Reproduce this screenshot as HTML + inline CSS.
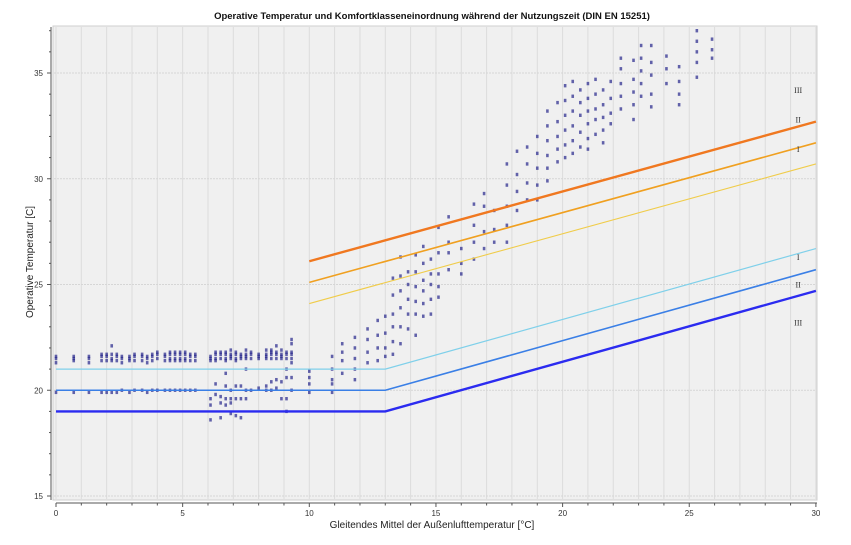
<!DOCTYPE html>
<html><head><meta charset="utf-8">
<style>
html,body{margin:0;padding:0;background:#fff;}
svg{display:block;font-family:"Liberation Sans",sans-serif;}
</style></head>
<body>
<svg id="chart" width="851" height="545" viewBox="0 0 851 545">
  <text x="432" y="19" text-anchor="middle" font-size="9.5" font-weight="bold" fill="#111">Operative Temperatur und Komfortklasseneinordnung während der Nutzungszeit (DIN EN 15251)</text>
  <rect x="53" y="26" width="764" height="474" fill="#f0f0f0" stroke="#cfcfcf"/>
  <g id="grid"></g>
  <g id="axes"></g>
  <g id="points"></g>
  <g id="lines"></g>
  <g id="labels"></g>
  <text x="432" y="528" text-anchor="middle" font-size="10" fill="#222">Gleitendes Mittel der Außenlufttemperatur [°C]</text>
  <text x="0" y="0" transform="translate(33,262) rotate(-90)" text-anchor="middle" font-size="10" fill="#222">Operative Temperatur [C]</text>
</svg>
<script>
const xTicks = [0,5,10,15,20,25,30];
const yTicks = [15,20,25,30,35];
const lineNames = ["lower-I","lower-II","lower-III","upper-I","upper-II","upper-III"];
const lineX = [[0,13,30],[0,13,30],[0,13,30],[10,30],[10,30],[10,30]];
const lineY = [[21,21,26.7],[20,20,25.7],[19,19,24.7],[24.1,30.7],[25.1,31.7],[26.1,32.7]];
const lineColors = ["#7fd0ea","#3a7fe6","#2b2bf0","#f0cc4a","#f0a020","#f07820"];
const lineWidths = [1.2,1.6,2.4,1.1,1.6,2.4];
const labelText = ["III","II","I","I","II","III"];
const labelY = [34.2,32.8,31.4,26.3,25.0,23.2];
const colX = [0,0.7,1.3,1.8,2.0,2.2,2.4,2.6,2.9,3.1,3.4,3.6,3.8,4.0,4.3,4.5,4.7,4.9,5.1,5.3,5.5,6.1,6.3,6.5,6.7,6.9,7.1,7.3,7.5,7.7,8.0,8.3,8.5,8.7,8.9,9.1,9.3,10.0,10.9,11.3,11.8,12.3,12.7,13.0,13.3,13.6,13.9,14.2,14.5,14.8,15.1,15.5,16.0,16.5,16.9,17.3,17.8,18.2,18.6,19.0,19.4,19.8,20.1,20.4,20.7,21.0,21.3,21.6,21.9,22.3,22.8,23.1,23.5,24.1,24.6,25.3,25.9];
const colY = [
[21.6,21.5,21.3,19.9],[21.6,21.5,21.4,19.9],[21.6,21.5,21.3,19.9],[21.7,21.6,21.4,19.9],[21.7,21.6,21.4,19.9],[21.7,21.5,21.4,22.1,19.9],[21.7,21.6,21.4,19.9],[21.6,21.5,21.3,20.0],[21.6,21.5,21.4,19.9],[21.7,21.6,21.4,20.0],
[21.7,21.6,21.4,20.0],[21.6,21.5,21.3,19.9],[21.7,21.6,21.4,20.0],[21.8,21.7,21.5,20.0],[21.7,21.6,21.4,20.0],[21.8,21.7,21.5,21.4,20.0],[21.8,21.7,21.5,21.4,20.0],[21.8,21.7,21.5,21.4,20.0],[21.8,21.7,21.5,21.4,20.0],[21.7,21.6,21.4,20.0],
[21.7,21.6,21.4,20.0],[21.6,21.5,21.4,19.6,19.3,18.6],[21.8,21.7,21.5,21.4,20.3,19.8],[21.8,21.7,21.5,19.7,19.4,18.7],[21.8,21.7,21.5,21.4,20.8,20.2,19.6,19.3],[21.9,21.7,21.6,21.5,20.0,19.6,19.4,18.9],[21.8,21.7,21.5,21.4,20.2,19.6,18.8],[21.7,21.6,21.5,20.2,19.6,18.7],[21.9,21.7,21.6,21.5,21.0,20.0,19.6],[21.8,21.7,21.5,20.0],
[21.7,21.6,21.5,20.1],[21.9,21.7,21.6,21.5,20.2,20.0],[21.9,21.8,21.7,21.5,20.4,20.0],[22.1,21.8,21.7,21.5,20.5,20.1],[21.9,21.7,21.6,21.5,20.4,19.6],[21.8,21.7,21.5,21.0,20.6,19.6,19.0],[22.4,22.2,21.8,21.7,21.5,21.3,20.6,20.0],[20.9,20.6,20.3,19.9],[21.6,21.0,20.5,20.3,19.9],[22.2,21.8,21.4,20.8],[22.5,22.0,21.5,21.0,20.5],
[22.9,22.4,21.8,21.3],[23.3,22.6,22.0,21.4],[23.5,22.7,22.0,21.6],[25.3,24.5,23.6,23.0,22.3,21.7],[26.3,25.4,24.7,23.9,23.0,22.2],[25.6,25.0,24.3,23.6,22.9],[26.4,25.6,24.9,24.2,23.6,22.6],[26.8,26.0,25.2,24.7,24.1,23.5],[26.2,25.5,25.0,24.3,23.6],
[27.7,26.5,25.5,24.9,24.4],[28.2,27.0,26.5,25.7],[26.7,26.0,25.5],[28.8,27.8,27.0,26.2],[29.3,28.7,27.5,26.7],[28.5,27.6,27.0],[30.7,29.7,28.7,27.8,27.0],[31.3,30.2,29.4,28.5],[31.5,30.7,29.8,29.0],[32.0,31.2,30.5,29.7,29.0],
[33.2,32.5,31.8,31.1,30.5,29.9],[33.6,32.7,32.0,31.4,30.8],[34.4,33.7,33.0,32.3,31.6,31.0],[34.6,33.9,33.2,32.5,31.8,31.2],[34.2,33.6,33.0,32.2,31.5],[34.5,33.8,33.2,32.6,31.9,31.4],[34.7,34.0,33.3,32.8,32.1],[34.2,33.5,32.9,32.3,31.7],[34.6,33.8,33.1,32.6],[35.7,35.2,34.5,33.9,33.3],
[35.6,34.7,34.1,33.5,32.8],[36.3,35.7,35.1,34.5,33.9],[36.3,35.5,34.9,34.0,33.4],[35.8,35.2,34.5],[35.3,34.6,34.0,33.5],[37.0,36.5,36.0,35.5,34.8],[36.6,36.1,35.7]
];
const NS="http://www.w3.org/2000/svg";
function sx(v){return 56+v*25.33;}
function sy(v){return 496-(v-15)*21.15;}
function mk(tag,attrs,parent){const e=document.createElementNS(NS,tag);for(const k in attrs)e.setAttribute(k,attrs[k]);document.getElementById(parent).appendChild(e);return e;}
for(let i=0;i<=30;i++){
  const g=mk("line",{x1:sx(i),x2:sx(i),y1:27,y2:499,stroke:"#dcdcdc","stroke-width":1},"grid");
  
  
}
yTicks.forEach(v=>{
  const g=mk("line",{x1:54,x2:816,y1:sy(v),y2:sy(v),stroke:"#d6d6d6","stroke-width":1,"stroke-dasharray":"2,1"},"grid");
  
  
});
const ya=mk("line",{x1:51,x2:51,y1:27,y2:500,stroke:"#555","stroke-width":1},"axes");


const xa=mk("line",{x1:56,x2:817,y1:503,y2:503,stroke:"#555","stroke-width":1},"axes");


for(let v=15;v<=37;v++){
  const t=mk("line",{x1:(v%5==0?47:49),x2:51,y1:sy(v),y2:sy(v),stroke:"#555"},"axes");
  
  
}
for(let v=0;v<=30;v++){
  const t=mk("line",{x1:sx(v),x2:sx(v),y1:503,y2:(v%5==0?507:505.5),stroke:"#555"},"axes");
  
  
}
yTicks.forEach(v=>{
  const t=mk("text",{x:43,y:sy(v)+3,"text-anchor":"end","font-size":"8",fill:"#333"},"axes");
  t.textContent=v;
  
  
});
xTicks.forEach(v=>{
  const t=mk("text",{x:sx(v),y:516,"text-anchor":"middle","font-size":"8",fill:"#333"},"axes");
  t.textContent=v;
  
  
});
colX.forEach((x,i)=>{
  colY[i].forEach(y=>{
    const c=mk("rect",{x:sx(x)-1.3,y:sy(y)-1.7,width:2.6,height:3.4,fill:"#24248a","fill-opacity":0.7},"points");
    
    
  });
});
lineNames.forEach((n,i)=>{
  const pts=lineX[i].map((x,j)=>sx(x)+","+sy(lineY[i][j])).join(" ");
  const p=mk("polyline",{points:pts,fill:"none",stroke:lineColors[i],"stroke-width":lineWidths[i]},"lines");
  
  
});
labelText.forEach((t,i)=>{
  const e=mk("text",{x:sx(29.3),y:sy(labelY[i])+3,"text-anchor":"middle","font-size":"8","font-family":"Liberation Serif, serif",fill:"#333"},"labels");
  e.textContent=t;
  
  
});
</script>
</body></html>
